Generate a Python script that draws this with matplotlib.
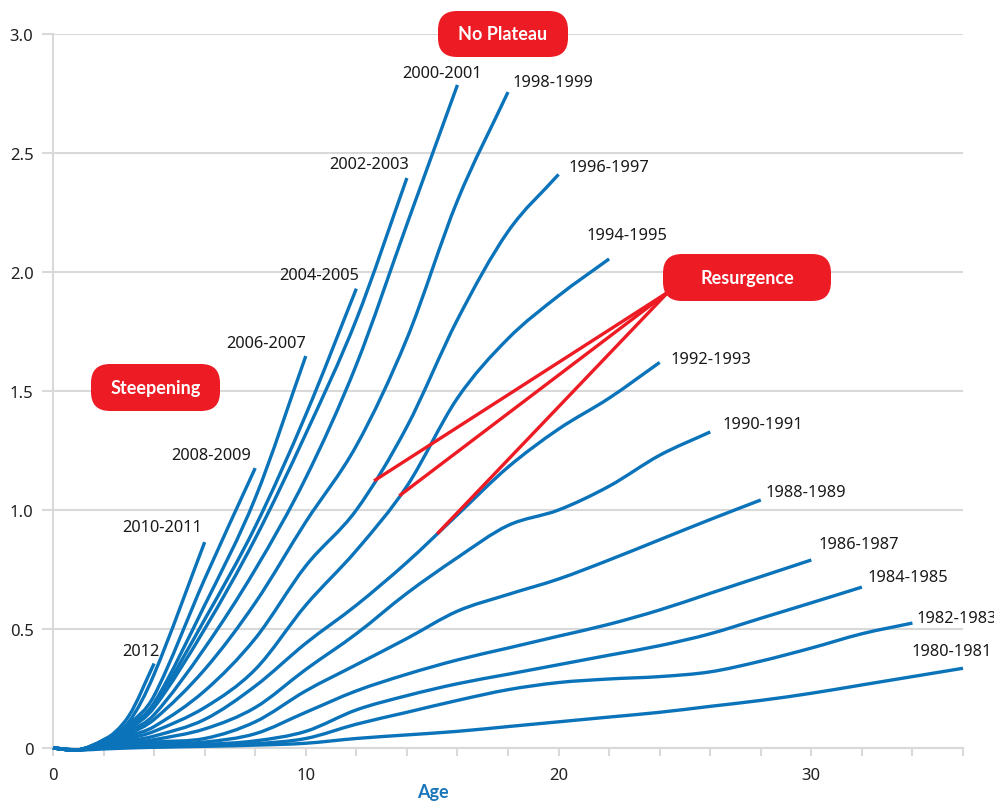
import numpy as np
import matplotlib
matplotlib.use("Agg")
import matplotlib.pyplot as plt
from matplotlib.path import Path
from matplotlib.patches import PathPatch, FancyBboxPatch

ages = [0, 1, 2, 3, 4, 6, 8, 10, 12, 14, 16, 18, 20, 22, 24, 26, 28, 30, 32, 34, 36]

c2012 = [0, -0.008, 0.03, 0.135, 0.355]
c2010 = [0, -0.008, 0.035, 0.11, 0.31, 0.865]
c2008 = [0, -0.008, 0.03, 0.10, 0.22, 0.71, 1.176]
c2006 = [0, -0.008, 0.03, 0.09, 0.19, 0.60, 1.05, 1.647]
c2004 = [0, -0.008, 0.03, 0.085, 0.18, 0.54, 0.93, 1.40, 1.93]
c2002 = [0, -0.008, 0.03, 0.08, 0.17, 0.50, 0.88, 1.32, 1.80, 2.395]
c2000 = [0, -0.008, 0.025, 0.07, 0.14, 0.42, 0.75, 1.135, 1.61, 2.20, 2.786]
c1998 = [0, -0.008, 0.025, 0.06, 0.12, 0.33, 0.61, 0.95, 1.27, 1.72, 2.30, 2.756]
c1996 = [0, -0.008, 0.02, 0.05, 0.09, 0.24, 0.46, 0.765, 1.00, 1.35, 1.80, 2.17, 2.41]
c1994 = [0, -0.008, 0.02, 0.04, 0.07, 0.17, 0.33, 0.60, 0.83, 1.10, 1.47, 1.72, 1.90, 2.055]
c1992 = [0, -0.008, 0.015, 0.03, 0.05, 0.12, 0.26, 0.44, 0.60, 0.78, 0.98, 1.18, 1.34, 1.47, 1.62]
c1990 = [0, -0.008, 0.01, 0.02, 0.035, 0.08, 0.17, 0.33, 0.48, 0.65, 0.80, 0.935, 1.00, 1.10, 1.23, 1.328]
c1988 = [0, -0.008, 0.01, 0.015, 0.025, 0.04, 0.11, 0.24, 0.35, 0.46, 0.575, 0.645, 0.71, 0.79, 0.875, 0.96, 1.042]
c1986 = [0, -0.008, 0.005, 0.01, 0.015, 0.025, 0.06, 0.15, 0.24, 0.31, 0.37, 0.42, 0.47, 0.52, 0.58, 0.65, 0.72, 0.79]
c1984 = [0, -0.008, 0.003, 0.005, 0.01, 0.015, 0.03, 0.07, 0.16, 0.22, 0.27, 0.31, 0.35, 0.39, 0.43, 0.48, 0.545, 0.61, 0.676]
c1982 = [0, -0.008, 0.0, 0.003, 0.005, 0.01, 0.018, 0.04, 0.10, 0.15, 0.20, 0.245, 0.275, 0.29, 0.30, 0.32, 0.365, 0.42, 0.48, 0.525]
c1980 = [0, -0.008, -0.004, 0.0, 0.003, 0.007, 0.012, 0.02, 0.04, 0.055, 0.07, 0.09, 0.11, 0.13, 0.15, 0.175, 0.20, 0.23, 0.265, 0.30, 0.335]

cohorts = ["2012", "2010-2011", "2008-2009", "2006-2007", "2004-2005", "2002-2003",
           "2000-2001", "1998-1999", "1996-1997", "1994-1995", "1992-1993",
           "1990-1991", "1988-1989", "1986-1987", "1984-1985", "1982-1983", "1980-1981"]
values = [c2012, c2010, c2008, c2006, c2004, c2002, c2000, c1998,
          c1996, c1994, c1992, c1990, c1988, c1986, c1984, c1982, c1980]

# label offsets in pixels from each curve's end (dx, dy, ha)
label_offsets = {
    "2012": (-13, 13, "center"), "2010-2011": (-42, 15, "center"),
    "2008-2009": (-44, 13, "center"), "2006-2007": (-40, 13, "center"),
    "2004-2005": (-37, 14, "center"), "2002-2003": (-38, 14, "center"),
    "2000-2001": (-15, 12, "center"), "1998-1999": (4, 10, "left"),
    "1996-1997": (10, 7, "left"), "1994-1995": (18, 24, "center"),
    "1992-1993": (11, 3, "left"), "1990-1991": (12, 8, "left"),
    "1988-1989": (5, 8, "left"), "1986-1987": (7, 16, "left"),
    "1984-1985": (6, 10, "left"), "1982-1983": (4, 5, "left"),
    "1980-1981": (-11, 17, "center"),
}

# cohorts the "Resurgence" callout points at, and the age where each line lands
resurgence = [("1996-1997", 12.7), ("1994-1995", 13.7), ("1992-1993", 15.2)]

BLUE = "#0a73b9"
RED = "#ed1c24"
GRID = "#d9d9d9"
FONT = ["Noto Sans", "DejaVu Sans"]
BOLD_FONT = ["Lato", "Open Sans", "DejaVu Sans"]


def smooth_path(x, y):
    x = np.asarray(x, float)
    y = np.asarray(y, float)
    m = np.empty(len(x))
    m[0] = (y[1] - y[0]) / (x[1] - x[0])
    m[-1] = (y[-1] - y[-2]) / (x[-1] - x[-2])
    m[1:-1] = (y[2:] - y[:-2]) / (x[2:] - x[:-2])
    verts = [(x[0], y[0])]
    codes = [Path.MOVETO]
    for i in range(len(x) - 1):
        h = x[i + 1] - x[i]
        verts += [(x[i] + h / 3, y[i] + m[i] * h / 3),
                  (x[i + 1] - h / 3, y[i + 1] - m[i + 1] * h / 3),
                  (x[i + 1], y[i + 1])]
        codes += [Path.CURVE4] * 3
    return Path(verts, codes)


fig = plt.figure(figsize=(9.95, 8.03), dpi=100)
ax = fig.add_axes([53 / 995, 54 / 803, 910 / 995, 714 / 803])
ax.set_xlim(0, 36)
ax.set_ylim(0, 3.0)

for name, vals in zip(cohorts, values):
    x = ages[:len(vals)]
    patch = PathPatch(smooth_path(x, vals), fill=False, ec=BLUE, lw=2.4,
                      capstyle="butt", joinstyle="round", zorder=3, clip_on=False)
    ax.add_patch(patch)
    dx, dy, ha = label_offsets[name]
    ax.annotate(name, (x[-1], vals[-1]), xytext=(dx * 0.72, dy * 0.72),
                textcoords="offset points", ha=ha, va="center",
                fontsize=11.8, family=FONT, color="#1a1a1a", zorder=5)

# red callout lines
hub = (24.34, 1.916)
lookup = dict(zip(cohorts, values))
for name, age in resurgence:
    vals = lookup[name]
    yv = np.interp(age, ages[:len(vals)], vals)
    ax.plot([age, hub[0]], [yv, hub[1]], color=RED, lw=2.4, zorder=4,
            solid_capstyle="butt", clip_on=False)

# axes styling
for s in ["top", "right"]:
    ax.spines[s].set_visible(False)
ax.spines["left"].set_color(GRID)
ax.spines["bottom"].set_color(GRID)
ax.spines["left"].set_linewidth(1.5)
ax.spines["bottom"].set_linewidth(1.5)

ax.set_yticks([0, 0.5, 1.0, 1.5, 2.0, 2.5, 3.0])
ax.set_yticklabels(["0", "0.5", "1.0", "1.5", "2.0", "2.5", "3.0"])
ax.set_xticks([0, 10, 20, 30])
ax.set_xticks(np.arange(0, 37, 2), minor=True)
ax.grid(axis="y", color=GRID, lw=1.5, zorder=0)
ax.tick_params(axis="y", length=8, width=1.5, color=GRID, pad=6, labelsize=12,
               labelcolor="#222222")
ax.tick_params(axis="x", which="both", length=6, width=1.5, color=GRID, pad=8,
               labelsize=12, labelcolor="#222222")
for lab in ax.get_xticklabels() + ax.get_yticklabels():
    lab.set_family(FONT)

fig.text(433 / 995, 1 - 793 / 803, "Age", ha="center", va="center", fontsize=13,
         fontweight="bold", color="#1a76bb", family=BOLD_FONT)


def bubble(x0, y0, w, h, text):
    # box given in pixels from the top-left corner of the image
    box = FancyBboxPatch((x0 / 100, (803 - y0 - h) / 100), w / 100, h / 100,
                         boxstyle="round,pad=0,rounding_size=0.19",
                         transform=fig.dpi_scale_trans, fc=RED, ec="none", zorder=6)
    fig.patches.append(box)
    fig.text((x0 + w / 2) / 995, 1 - (y0 + h / 2) / 803, text, ha="center",
             va="center", fontsize=13, fontweight="bold", color="white",
             family=BOLD_FONT, zorder=7)


bubble(438, 12, 130, 46, "No Plateau")
bubble(91, 365, 129, 47, "Steepening")
bubble(663, 255, 168, 47, "Resurgence")

fig.savefig("out.png", dpi=100)
